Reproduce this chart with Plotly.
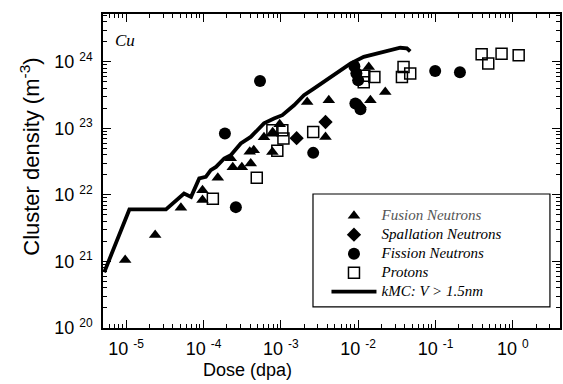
import plotly.graph_objects as go

# ---- data ----
kmc_dose = [5.2e-6, 1.1e-5, 3.27e-5, 5.6e-5, 6.9e-5, 8.8e-5, 1.07e-4, 1.24e-4, 1.45e-4,
            1.85e-4, 2.25e-4, 3.03e-4, 4.08e-4, 4.98e-4, 6.05e-4, 8.15e-4, 1.045e-3,
            1.48e-3, 1.99e-3, 2.67e-3, 3.59e-3, 5.35e-3, 7.92e-3, 1.18e-2, 1.75e-2,
            2.6e-2, 3.5e-2, 4.27e-2, 4.71e-2]
kmc_density = [6.9e20, 6.05e21, 6.05e21, 1.05e22, 9.35e21, 1.77e22, 1.87e22, 2.36e22,
               2.64e22, 3.53e22, 3.96e22, 5.93e22, 7.45e22, 9.4e22, 1.19e23, 1.41e23,
               1.58e23, 2.23e23, 3.15e23, 3.97e23, 4.99e23, 7.05e23, 9.42e23, 1.19e24,
               1.33e24, 1.49e24, 1.63e24, 1.6e24, 1.44e24]

fusion_dose = [9.7e-6, 2.37e-5, 5.1e-5, 9.7e-5, 9.7e-5, 1.53e-4, 2.25e-4, 2.39e-4, 3.13e-4,
               4.08e-4, 3.96e-4, 4.46e-4, 6.05e-4, 7.77e-4, 7.84e-4, 9.66e-4, 2.19e-3,
               4.17e-3, 3.78e-3, 1.37e-2, 1.07e-2, 1.44e-2, 2.24e-2]
fusion_density = [1.05e21, 2.49e21, 6.4e21, 1.18e22, 8.4e21, 1.82e22, 3.57e22, 2.61e22,
                  2.61e22, 2.97e22, 4.47e22, 4.71e22, 7.38e22, 4.44e22, 8.77e22, 1.16e23,
                  2.5e23, 2.65e23, 7.45e22, 8.4e23, 2.23e23, 2.65e23, 3.53e23]

spall_dose = [1.6e-3, 3.78e-3]
spall_density = [7.13e22, 1.25e23]

fission_dose = [2.62e-4, 1.89e-4, 5.38e-4, 2.62e-3, 8.93e-3, 9.48e-3, 1.0e-2, 9.2e-3,
                1.07e-2, 9.9e-2, 0.207]
fission_density = [6.56e21, 8.37e22, 5.17e23, 4.29e22, 8.6e23, 6.74e23, 5.3e23, 2.37e23,
                   1.94e23, 7.3e23, 6.98e23]

proton_dose = [1.32e-4, 4.88e-4, 9.0e-4, 7.77e-4, 1.045e-3, 1.08e-3, 2.62e-3, 1.18e-2,
               1.2e-2, 1.62e-2, 3.86e-2, 3.68e-2, 4.71e-2, 0.395, 0.481, 0.715, 1.19]
proton_density = [8.8e21, 1.81e22, 4.63e22, 9.4e22, 9.4e22, 7.05e22, 8.86e22, 4.94e23,
                  6.2e23, 5.93e23, 8.38e23, 5.93e23, 6.67e23, 1.3e24, 9.42e23, 1.33e24,
                  1.26e24]

x_exps = [-5, -4, -3, -2, -1, 0]
y_exps = [20, 21, 22, 23, 24]
sup_fmt = "10 <sup><span style='font-size:12px'>%d</span></sup>"
x_ticklabels = [sup_fmt % e for e in x_exps]
y_ticklabels = [sup_fmt % e for e in y_exps]

x_minor = [m * 10.0 ** e for e in range(-6, 1) for m in range(2, 10)]
y_minor = [m * 10.0 ** e for e in range(20, 25) for m in range(2, 10)]

legend_font = "Liberation Serif"
sans = "Liberation Sans"


def leg(text, color="black"):
    return "<span style='font-size:15px;color:%s'><i>%s</i></span>" % (color, text)


fig = go.Figure()
fig.add_trace(go.Scatter(x=kmc_dose, y=kmc_density, mode="lines",
                         line=dict(color="black", width=3.8),
                         name=leg("kMC: V > 1.5nm"), legendrank=5))
fig.add_trace(go.Scatter(x=fusion_dose, y=fusion_density, mode="markers",
                         marker=dict(symbol="triangle-up", size=11, color="black"),
                         name=leg("Fusion Neutrons", "#555"), legendrank=1))
fig.add_trace(go.Scatter(x=spall_dose, y=spall_density, mode="markers",
                         marker=dict(symbol="diamond", size=11, color="black"),
                         name=leg("Spallation Neutrons"), legendrank=2))
fig.add_trace(go.Scatter(x=fission_dose, y=fission_density, mode="markers",
                         marker=dict(symbol="circle", size=12, color="black"),
                         name=leg("Fission Neutrons"), legendrank=3))
fig.add_trace(go.Scatter(x=proton_dose, y=proton_density, mode="markers",
                         marker=dict(symbol="square-open", size=11, color="black",
                                     line=dict(width=1.5)),
                         name=leg("Protons"), legendrank=4))

axis_common = dict(type="log", showgrid=False, zeroline=False, showline=True,
                   automargin=False,
                   linecolor="black", linewidth=1.5, mirror="ticks", ticks="inside",
                   ticklen=8, tickwidth=1.2, tickcolor="black",
                   tickfont=dict(family=sans, size=18, color="black"))

fig.update_xaxes(**axis_common, range=[-5.3, 0.61], tickmode="array",
                 tickvals=[10.0 ** e for e in x_exps], ticktext=x_ticklabels,
                 ticklabelstandoff=4,
                 minor=dict(tickmode="array", tickvals=x_minor, ticks="inside",
                            ticklen=4, tickwidth=1, tickcolor="black"))
fig.update_yaxes(**axis_common, range=[20, 24.72], tickmode="array",
                 tickvals=[10.0 ** e for e in y_exps], ticktext=y_ticklabels,
                 ticklabelstandoff=5,
                 minor=dict(tickmode="array", tickvals=y_minor, ticks="inside",
                            ticklen=4, tickwidth=1, tickcolor="black"))

# axis titles placed like the reference
fig.add_annotation(text="Dose (dpa)", xref="paper", yref="paper", x=0.317, y=-0.134,
                   xanchor="center", yanchor="middle", showarrow=False,
                   font=dict(family=sans, size=18, color="black"))
fig.add_annotation(text="Cluster density (m<sup>-3</sup>)", xref="paper", yref="paper",
                   x=-0.16, y=0.545, textangle=-90, xanchor="center", yanchor="middle",
                   showarrow=False, font=dict(family=sans, size=22, color="black"))

fig.add_shape(type="rect", xref="paper", yref="paper", x0=0.4595, x1=0.978,
              y0=0.0675, y1=0.4268, line=dict(color="black", width=1.2))

fig.add_annotation(text="<i>Cu</i>", xref="paper", yref="paper", x=0.022, y=0.917,
                   xanchor="left", yanchor="middle", showarrow=False,
                   font=dict(family=legend_font, size=17, color="black"))

fig.update_layout(
    width=563, height=384,
    margin=dict(l=103, r=3, t=14, b=56, autoexpand=False),
    paper_bgcolor="white", plot_bgcolor="white",
    showlegend=True,
    legend=dict(x=0.489, y=0.404, xanchor="left", yanchor="top",
                bgcolor="rgba(0,0,0,0)", borderwidth=0,
                font=dict(family=legend_font, size=12.3, color="black"),
                itemwidth=45, tracegroupgap=0),
)

fig.write_html("out.html", config={"displayModeBar": False},
               post_script="document.body.style.margin='0';document.body.style.overflow='hidden';")
